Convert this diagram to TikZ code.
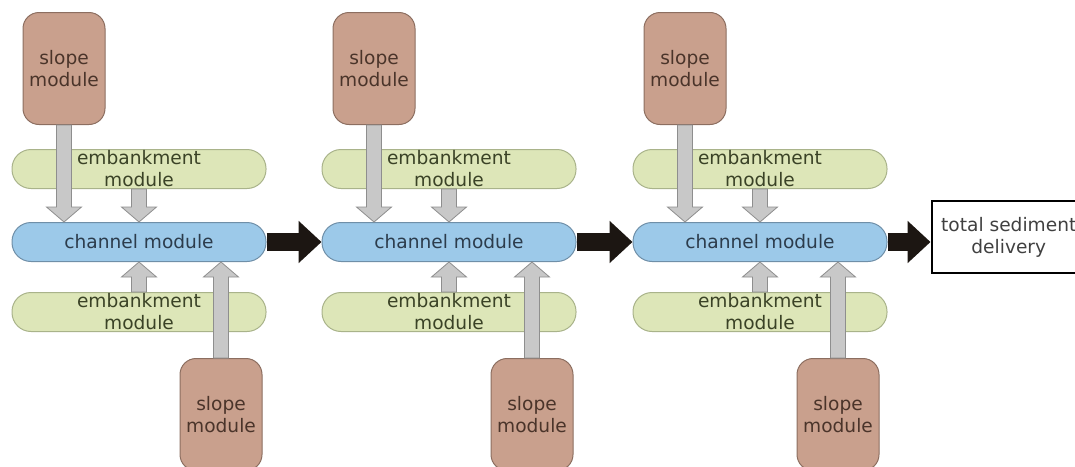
\documentclass[tikz,border=0pt]{standalone}
\usepackage{fontspec}
\setmainfont{DejaVu Sans}
\usepackage{tikz}
\usetikzlibrary{arrows.meta, positioning, calc}

\definecolor{slopefill}{HTML}{C9A08D}
\definecolor{slopeline}{HTML}{8C6E60}
\definecolor{slopetext}{HTML}{4A342A}
\definecolor{bankfill}{HTML}{DDE6B8}
\definecolor{bankline}{HTML}{A9B38A}
\definecolor{banktext}{HTML}{3A4226}
\definecolor{chanfill}{HTML}{9CC9E9}
\definecolor{chanline}{HTML}{6F8FA8}
\definecolor{chantext}{HTML}{2C3C4C}
\definecolor{flowfill}{HTML}{C8C8C8}
\definecolor{flowline}{HTML}{8E8E8E}
\definecolor{pushcolor}{HTML}{1C1612}

% block arrow with outline, pointing from #1 straight up or down to the level of #2
\newcommand{\flowarrow}[2]{%
  \draw[flow] let \p1=(#1), \p2=(#2), \n1={sign(\y2-\y1)*15pt} in
    ({\x1-7.5pt},\y1) -- ({\x1-7.5pt},{\y2-(\n1)}) -- ({\x1-17.5pt},{\y2-(\n1)}) -- (\x1,\y2)
    -- ({\x1+17.5pt},{\y2-(\n1)}) -- ({\x1+7.5pt},{\y2-(\n1)}) -- ({\x1+7.5pt},\y1) -- cycle;}

\begin{document}
\begin{tikzpicture}[x=1pt, y=-1pt,
  box/.style={draw, line width=1pt, align=center, inner sep=0pt, font=\fontsize{18.6pt}{22pt}\selectfont},
  slope/.style={box, fill=slopefill, draw=slopeline, text=slopetext, minimum width=82pt, minimum height=112pt, rounded corners=16pt},
  bank/.style={box, fill=bankfill, draw=bankline, minimum width=254pt, minimum height=39pt, rounded corners=19pt},
  banklabel/.style={align=center, inner sep=0pt, text=banktext, font=\fontsize{18.6pt}{22pt}\selectfont},
  channel/.style={box, fill=chanfill, draw=chanline, text=chantext, minimum width=254pt, minimum height=39pt, rounded corners=19pt},
  flow/.style={fill=flowfill, draw=flowline, line width=0.8pt},
  push/.style={draw=pushcolor, line width=18pt, -{Triangle[length=23pt, width=41pt]}},
  result/.style={box, draw=black, line width=2.5pt, text=black!75, minimum width=154pt, minimum height=72pt}
]
  \useasboundingbox (0,0) rectangle (1075,466);

  \foreach \i/\cx/\dx in {1/139/82, 2/449/83, 3/760/78} {
    \node[channel] (ch\i) at (\cx,242) {channel module};
    \node[bank, above=33pt of ch\i, label={[banklabel]center:embankment\\module}] (et\i) {};
    \node[bank, below=30pt of ch\i, label={[banklabel]center:embankment\\module}] (eb\i) {};
    \node[slope, above=97pt of ch\i, xshift=-75pt] (st\i) {slope\\module};
    \node[slope, below=96pt of ch\i, xshift=\dx pt] (sb\i) {slope\\module};

    \flowarrow{st\i.south}{ch\i.north}
    \flowarrow{et\i.south}{ch\i.north}
    \flowarrow{eb\i.north}{ch\i.south}
    \flowarrow{sb\i.north}{ch\i.south}
  }

  \node[result, right=43pt of ch3, yshift=5pt] (total) {total sediment\\delivery};

  \draw[push] (ch1.east) -- (ch2.west);
  \draw[push] (ch2.east) -- (ch3.west);
  \draw[push] (ch3.east) -- (ch3.east -| total.west);
\end{tikzpicture}
\end{document}
